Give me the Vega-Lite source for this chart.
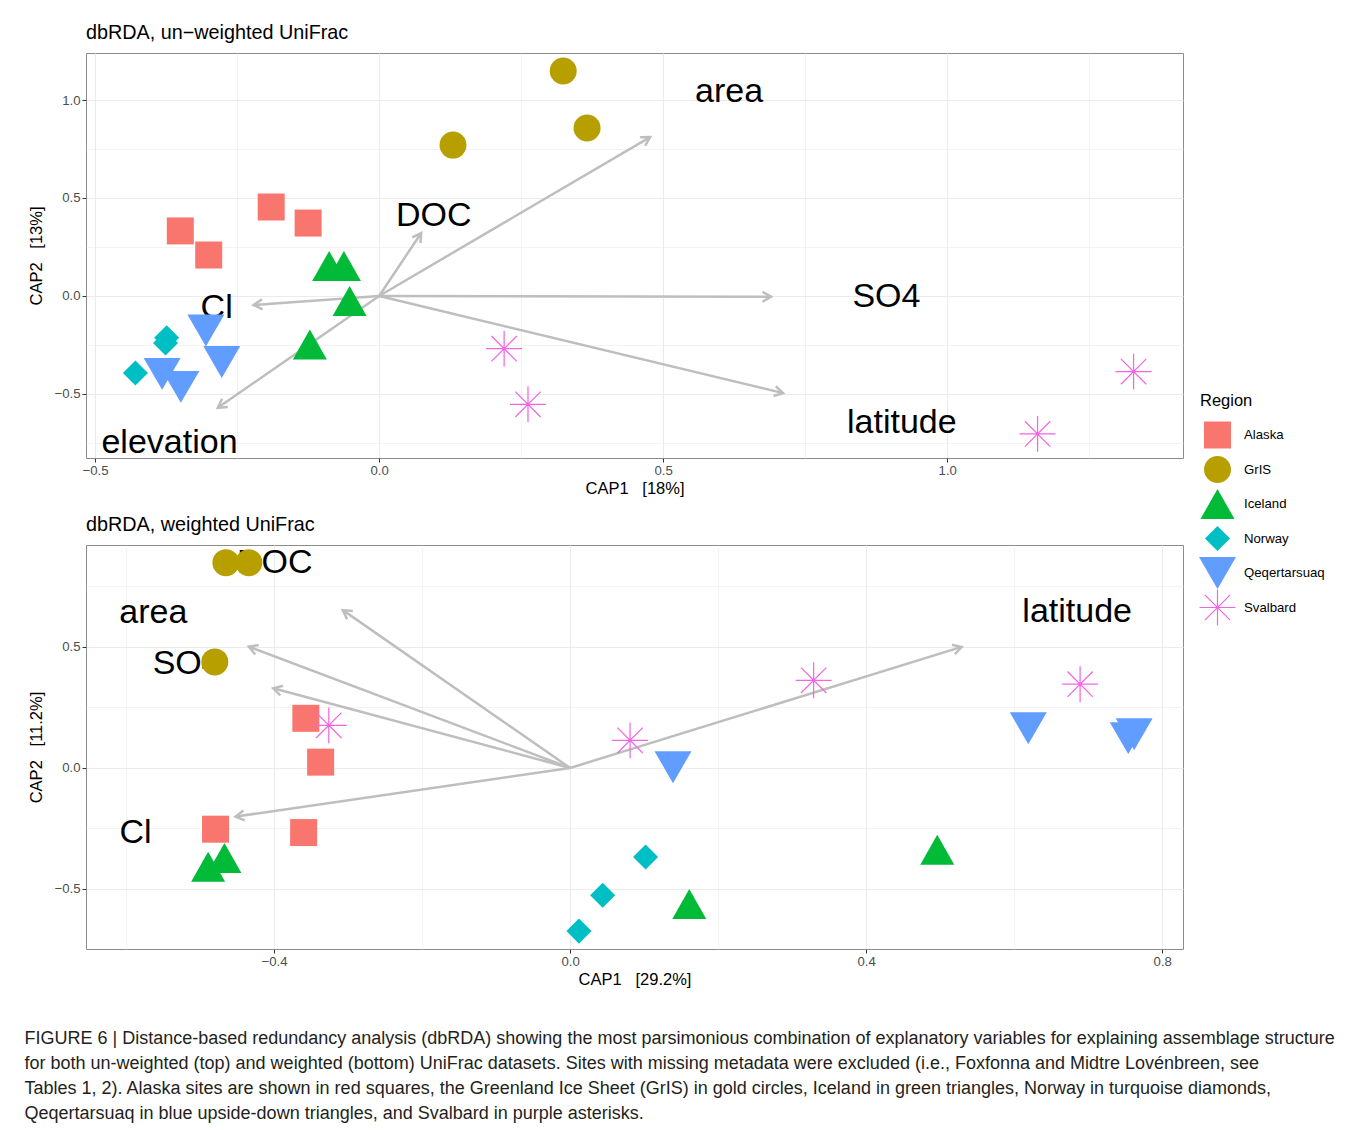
{
  "$schema": "https://vega.github.io/schema/vega-lite/v6.json",
  "background": "white",
  "padding": {"left": 24, "top": 22, "right": 5, "bottom": 5},
  "config": {
    "font": "Liberation Sans",
    "view": {"stroke": "#8C8C8C", "strokeWidth": 1},
    "concat": {"spacing": 16},
    "axis": {
      "grid": true, "gridColor": "#EBEBEB", "domain": false,
      "tickColor": "#333333", "tickSize": 4, "tickWidth": 1,
      "labelColor": "#4D4D4D", "labelFontSize": 13.2, "labelPadding": 2,
      "titleFontSize": 16.5, "titleFontWeight": "normal", "titleColor": "#000000"
    },
    "axisX": {"titlePadding": 4},
    "axisY": {"titlePadding": 9},
    "title": {"fontSize": 19.8, "fontWeight": "normal", "color": "#000000", "anchor": "start", "frame": "group", "offset": 10},
    "legend": {
      "titleFontSize": 16.5, "titleFontWeight": "normal", "titleColor": "#000000",
      "labelFontSize": 13.2, "labelColor": "#000000", "symbolSize": 729,
      "symbolStrokeWidth": 0, "symbolOpacity": 1, "rowPadding": -2.5, "gridAlign": "all",
      "symbolOffset": 4, "labelOffset": 13, "titlePadding": 12
    }
  },
  "datasets": {
    "sitesTop": [
      {"region": "Alaska", "x": -0.350, "y": 0.332},
      {"region": "Alaska", "x": -0.300, "y": 0.209},
      {"region": "Alaska", "x": -0.190, "y": 0.454},
      {"region": "Alaska", "x": -0.125, "y": 0.372},
      {"region": "GrIS", "x": 0.324, "y": 1.148},
      {"region": "GrIS", "x": 0.366, "y": 0.857},
      {"region": "GrIS", "x": 0.130, "y": 0.770},
      {"region": "Iceland", "x": -0.088, "y": 0.153},
      {"region": "Iceland", "x": -0.062, "y": 0.153},
      {"region": "Iceland", "x": -0.052, "y": -0.026},
      {"region": "Iceland", "x": -0.122, "y": -0.248},
      {"region": "Norway", "x": -0.374, "y": -0.213},
      {"region": "Norway", "x": -0.376, "y": -0.240},
      {"region": "Norway", "x": -0.429, "y": -0.393},
      {"region": "Qeqertarsuaq", "x": -0.305, "y": -0.176},
      {"region": "Qeqertarsuaq", "x": -0.277, "y": -0.337},
      {"region": "Qeqertarsuaq", "x": -0.382, "y": -0.398},
      {"region": "Qeqertarsuaq", "x": -0.349, "y": -0.464},
      {"region": "Svalbard", "x": 0.220, "y": -0.269},
      {"region": "Svalbard", "x": 0.262, "y": -0.553},
      {"region": "Svalbard", "x": 1.328, "y": -0.386},
      {"region": "Svalbard", "x": 1.159, "y": -0.704}
    ],
    "vectorsTop": [
      {"name": "area", "x": 0.477, "y": 0.811, "lx": 0.616, "ly": 1.043},
      {"name": "DOC", "x": 0.074, "y": 0.321, "lx": 0.096, "ly": 0.410},
      {"name": "SO4", "x": 0.690, "y": -0.004, "lx": 0.893, "ly": -0.005},
      {"name": "latitude", "x": 0.711, "y": -0.496, "lx": 0.920, "ly": -0.648},
      {"name": "Cl", "x": -0.221, "y": -0.046, "lx": -0.286, "ly": -0.061},
      {"name": "elevation", "x": -0.284, "y": -0.571, "lx": -0.369, "ly": -0.750}
    ],
    "sitesBottom": [
      {"region": "Alaska", "x": -0.357, "y": 0.205},
      {"region": "Alaska", "x": -0.337, "y": 0.024},
      {"region": "Alaska", "x": -0.479, "y": -0.253},
      {"region": "Alaska", "x": -0.360, "y": -0.267},
      {"region": "GrIS", "x": -0.465, "y": 0.848},
      {"region": "GrIS", "x": -0.434, "y": 0.848},
      {"region": "GrIS", "x": -0.480, "y": 0.438},
      {"region": "Iceland", "x": -0.489, "y": -0.408},
      {"region": "Iceland", "x": -0.467, "y": -0.372},
      {"region": "Iceland", "x": 0.161, "y": -0.562},
      {"region": "Iceland", "x": 0.496, "y": -0.338},
      {"region": "Norway", "x": 0.102, "y": -0.368},
      {"region": "Norway", "x": 0.044, "y": -0.526},
      {"region": "Norway", "x": 0.012, "y": -0.674},
      {"region": "Qeqertarsuaq", "x": 0.139, "y": 0.003},
      {"region": "Qeqertarsuaq", "x": 0.619, "y": 0.164},
      {"region": "Qeqertarsuaq", "x": 0.754, "y": 0.123},
      {"region": "Qeqertarsuaq", "x": 0.762, "y": 0.139},
      {"region": "Svalbard", "x": -0.326, "y": 0.176},
      {"region": "Svalbard", "x": 0.081, "y": 0.114},
      {"region": "Svalbard", "x": 0.329, "y": 0.362},
      {"region": "Svalbard", "x": 0.689, "y": 0.346}
    ],
    "vectorsBottom": [
      {"name": "DOC", "x": -0.307, "y": 0.652, "lx": -0.399, "ly": 0.848},
      {"name": "area", "x": -0.434, "y": 0.501, "lx": -0.563, "ly": 0.642},
      {"name": "SO4", "x": -0.401, "y": 0.329, "lx": -0.518, "ly": 0.430},
      {"name": "Cl", "x": -0.452, "y": -0.201, "lx": -0.587, "ly": -0.267},
      {"name": "latitude", "x": 0.529, "y": 0.500, "lx": 0.685, "ly": 0.646}
    ]
  },
  "title": {
    "text": [
      "FIGURE 6 | Distance-based redundancy analysis (dbRDA) showing the most parsimonious combination of explanatory variables for explaining assemblage structure",
      "for both un-weighted (top) and weighted (bottom) UniFrac datasets. Sites with missing metadata were excluded (i.e., Foxfonna and Midtre Lovénbreen, see",
      "Tables 1, 2). Alaska sites are shown in red squares, the Greenland Ice Sheet (GrIS) in gold circles, Iceland in green triangles, Norway in turquoise diamonds,",
      "Qeqertarsuaq in blue upside-down triangles, and Svalbard in purple asterisks."
    ],
    "orient": "bottom", "anchor": "start", "frame": "bounds", "dx": -4,
    "fontSize": 18, "lineHeight": 25, "color": "#231F20", "offset": 42
  },
  "vconcat": [
    {
      "width": 1097, "height": 405,
      "title": {"text": "dbRDA, un−weighted UniFrac"},
      "layer": [
        {
          "data": {"name": "vectorsTop"},
          "mark": {"type": "rule", "color": "#BEBEBE", "strokeWidth": 2.5},
          "encoding": {
            "x": {"field": "x", "type": "quantitative", "scale": {"domain": [-0.516, 1.415], "nice": false, "zero": false},
              "axis": {"title": "CAP1\u00a0\u00a0\u00a0[18%]", "values": [-0.5, -0.25, 0, 0.25, 0.5, 0.75, 1, 1.25], "format": ".1f",
                "labelExpr": "abs(datum.value*2-round(datum.value*2))>0.1 ? '' : datum.label",
                "tickOpacity": {"condition": {"test": "abs(datum.value*2-round(datum.value*2))>0.1", "value": 0}, "value": 1},
                "gridWidth": {"condition": {"test": "abs(datum.value*2-round(datum.value*2))>0.1", "value": 0.6}, "value": 1.1}}},
            "y": {"field": "y", "type": "quantitative", "scale": {"domain": [-0.827, 1.240], "nice": false, "zero": false},
              "axis": {"title": "CAP2\u00a0\u00a0\u00a0[13%]", "values": [-0.75, -0.5, -0.25, 0, 0.25, 0.5, 0.75, 1], "format": ".1f",
                "labelExpr": "abs(datum.value*2-round(datum.value*2))>0.1 ? '' : datum.label",
                "tickOpacity": {"condition": {"test": "abs(datum.value*2-round(datum.value*2))>0.1", "value": 0}, "value": 1},
                "gridWidth": {"condition": {"test": "abs(datum.value*2-round(datum.value*2))>0.1", "value": 0.6}, "value": 1.1}}},
            "x2": {"datum": 0},
            "y2": {"datum": 0}
          }
        },
        {
          "data": {"name": "vectorsTop"},
          "transform": [{"calculate": "atan2(-datum.y*195.9, datum.x*568.1)*180/PI", "as": "heading"}],
          "mark": {"type": "point", "shape": "M-1,-0.577L0,0L-1,0.577", "filled": false, "stroke": "#BEBEBE", "strokeWidth": 2.5, "size": 300, "opacity": 1},
          "encoding": {
            "x": {"field": "x", "type": "quantitative"},
            "y": {"field": "y", "type": "quantitative"},
            "angle": {"field": "heading", "type": "quantitative", "scale": null}
          }
        },
        {
          "data": {"name": "vectorsTop"},
          "mark": {"type": "text", "fontSize": 34, "color": "#000000", "align": "center", "baseline": "middle"},
          "encoding": {
            "x": {"field": "lx", "type": "quantitative"},
            "y": {"field": "ly", "type": "quantitative"},
            "text": {"field": "name"}
          }
        },
        {
          "data": {"name": "sitesTop"},
          "mark": {"type": "point", "filled": true, "opacity": 1, "size": 729, "strokeWidth": 0},
          "encoding": {
            "x": {"field": "x", "type": "quantitative"},
            "y": {"field": "y", "type": "quantitative"},
            "color": {"field": "region", "type": "nominal", "title": "Region",
              "scale": {"domain": ["Alaska", "GrIS", "Iceland", "Norway", "Qeqertarsuaq", "Svalbard"],
                "range": ["#F8766D", "#B79F00", "#00BA38", "#00BFC4", "#619CFF", "#F564E3"]},
              "legend": {"orient": "none", "legendX": 1114, "legendY": 340}},
            "shape": {"field": "region", "type": "nominal", "title": "Region",
              "scale": {"domain": ["Alaska", "GrIS", "Iceland", "Norway", "Qeqertarsuaq", "Svalbard"],
                "range": ["M-1,-1H1V1H-1Z", "circle", "M0,-1.11L1.26,1.11L-1.26,1.11Z", "M0,-0.93L0.93,0L0,0.93L-0.93,0Z", "M-1.37,-1.18L1.37,-1.18L0,1.18Z",
                  "M-0.045,-1.33H0.045V1.33H-0.045ZM-1.33,-0.045H1.33V0.045H-1.33ZM-0.908,-0.972L0.972,0.908L0.908,0.972L-0.972,-0.908ZM-0.972,0.908L0.908,-0.972L0.972,-0.908L-0.908,0.972Z"]},
              "legend": {"orient": "none", "legendX": 1114, "legendY": 340}}
          }
        }
      ]
    },
    {
      "width": 1097, "height": 404,
      "title": {"text": "dbRDA, weighted UniFrac"},
      "layer": [
        {
          "data": {"name": "vectorsBottom"},
          "mark": {"type": "rule", "color": "#BEBEBE", "strokeWidth": 2.5},
          "encoding": {
            "x": {"field": "x", "type": "quantitative", "scale": {"domain": [-0.654, 0.828], "nice": false, "zero": false},
              "axis": {"title": "CAP1\u00a0\u00a0\u00a0[29.2%]", "values": [-0.6, -0.4, -0.2, 0, 0.2, 0.4, 0.6, 0.8], "format": ".1f",
                "labelExpr": "abs(datum.value/0.4-round(datum.value/0.4))>0.1 ? '' : datum.label",
                "tickOpacity": {"condition": {"test": "abs(datum.value/0.4-round(datum.value/0.4))>0.1", "value": 0}, "value": 1},
                "gridWidth": {"condition": {"test": "abs(datum.value/0.4-round(datum.value/0.4))>0.1", "value": 0.6}, "value": 1.1}}},
            "y": {"field": "y", "type": "quantitative", "scale": {"domain": [-0.748, 0.921], "nice": false, "zero": false},
              "axis": {"title": "CAP2\u00a0\u00a0\u00a0[11.2%]", "values": [-0.5, -0.25, 0, 0.25, 0.5, 0.75], "format": ".1f",
                "labelExpr": "abs(datum.value*2-round(datum.value*2))>0.1 ? '' : datum.label",
                "tickOpacity": {"condition": {"test": "abs(datum.value*2-round(datum.value*2))>0.1", "value": 0}, "value": 1},
                "gridWidth": {"condition": {"test": "abs(datum.value*2-round(datum.value*2))>0.1", "value": 0.6}, "value": 1.1}}},
            "x2": {"datum": 0},
            "y2": {"datum": 0}
          }
        },
        {
          "data": {"name": "vectorsBottom"},
          "transform": [{"calculate": "atan2(-datum.y*242.1, datum.x*740.2)*180/PI", "as": "heading"}],
          "mark": {"type": "point", "shape": "M-1,-0.577L0,0L-1,0.577", "filled": false, "stroke": "#BEBEBE", "strokeWidth": 2.5, "size": 300, "opacity": 1},
          "encoding": {
            "x": {"field": "x", "type": "quantitative"},
            "y": {"field": "y", "type": "quantitative"},
            "angle": {"field": "heading", "type": "quantitative", "scale": null}
          }
        },
        {
          "data": {"name": "vectorsBottom"},
          "mark": {"type": "text", "fontSize": 34, "color": "#000000", "align": "center", "baseline": "middle"},
          "encoding": {
            "x": {"field": "lx", "type": "quantitative"},
            "y": {"field": "ly", "type": "quantitative"},
            "text": {"field": "name"}
          }
        },
        {
          "data": {"name": "sitesBottom"},
          "mark": {"type": "point", "filled": true, "opacity": 1, "size": 729, "strokeWidth": 0},
          "encoding": {
            "x": {"field": "x", "type": "quantitative"},
            "y": {"field": "y", "type": "quantitative"},
            "color": {"field": "region", "type": "nominal", "title": "Region",
              "scale": {"domain": ["Alaska", "GrIS", "Iceland", "Norway", "Qeqertarsuaq", "Svalbard"],
                "range": ["#F8766D", "#B79F00", "#00BA38", "#00BFC4", "#619CFF", "#F564E3"]},
              "legend": {"orient": "none", "legendX": 1114, "legendY": 340}},
            "shape": {"field": "region", "type": "nominal", "title": "Region",
              "scale": {"domain": ["Alaska", "GrIS", "Iceland", "Norway", "Qeqertarsuaq", "Svalbard"],
                "range": ["M-1,-1H1V1H-1Z", "circle", "M0,-1.11L1.26,1.11L-1.26,1.11Z", "M0,-0.93L0.93,0L0,0.93L-0.93,0Z", "M-1.37,-1.18L1.37,-1.18L0,1.18Z",
                  "M-0.045,-1.33H0.045V1.33H-0.045ZM-1.33,-0.045H1.33V0.045H-1.33ZM-0.908,-0.972L0.972,0.908L0.908,0.972L-0.972,-0.908ZM-0.972,0.908L0.908,-0.972L0.972,-0.908L-0.908,0.972Z"]},
              "legend": {"orient": "none", "legendX": 1114, "legendY": 340}}
          }
        }
      ]
    }
  ]
}
